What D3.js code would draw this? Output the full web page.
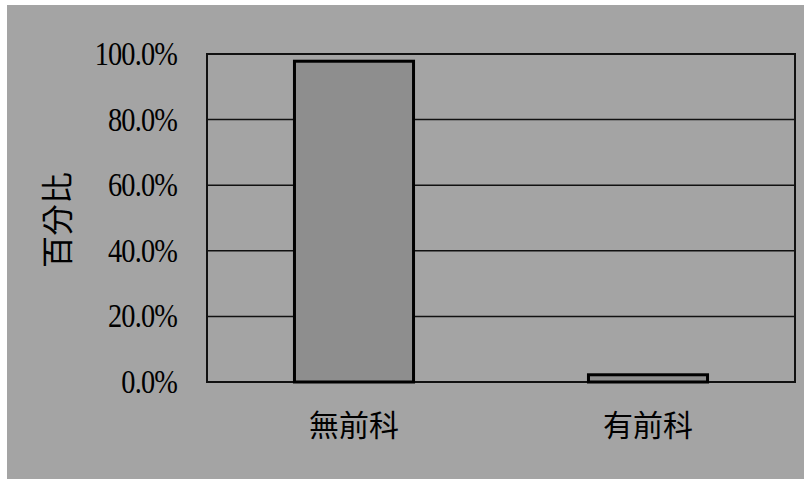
<!DOCTYPE html>
<html>
<head>
<meta charset="utf-8">
<script src="https://cdn.jsdelivr.net/npm/d3@7"></script>
<style>
  body { margin: 0; background: #fff; }
</style>
</head>
<body>
<div id="graph"></div>
<script>
// data
const categories = ["無前科", "有前科"];
const values = [97.8, 2.2];
const yTicks = [0, 20, 40, 60, 80, 100];
const yTitle = "百分比";

const W = 807, H = 482;
const margin = { top: 54, right: 12, bottom: 100, left: 207 };
const width = W - margin.left - margin.right,
      height = H - margin.top - margin.bottom;

const svg = d3.select("#graph")
  .append("svg")
  .attr("width", W)
  .attr("height", H);

// grey scanned background
svg.append("rect")
  .attr("x", 7).attr("y", 5)
  .attr("width", W - 10).attr("height", H - 8)
  .attr("fill", "#a4a4a4");

const g = svg.append("g")
  .attr("transform", "translate(" + margin.left + "," + margin.top + ")");

const x = d3.scaleBand().domain(categories).range([0, width]).padding(0);
const y = d3.scaleLinear().domain([0, 100]).range([height, 0]);

// gridlines
g.selectAll("line.grid")
  .data(yTicks.filter(d => d > 0 && d < 100))
  .enter().append("line")
  .attr("class", "grid")
  .attr("x1", 0).attr("x2", width)
  .attr("y1", d => y(d)).attr("y2", d => y(d))
  .attr("stroke", "#111").attr("stroke-width", 1.5);

// plot border
g.append("rect")
  .attr("x", 0).attr("y", 0)
  .attr("width", width).attr("height", height)
  .attr("fill", "none")
  .attr("stroke", "#111").attr("stroke-width", 2);

// bars
const barW = x.bandwidth() * 0.405;
g.selectAll("rect.bar")
  .data(values)
  .enter().append("rect")
  .attr("class", "bar")
  .attr("x", (d, i) => x(categories[i]) + x.bandwidth() / 2 - barW / 2)
  .attr("y", d => y(d))
  .attr("width", barW)
  .attr("height", d => height - y(d))
  .attr("fill", "#8e8e8e")
  .attr("stroke", "#000").attr("stroke-width", 3);

// y axis labels (condensed serif like the scan)
const yAxis = d3.axisLeft(y).tickValues(yTicks)
  .tickFormat(d => d.toFixed(1) + "%").tickSize(0).tickPadding(0);
g.append("g")
  .attr("class", "y axis")
  .call(yAxis)
  .call(s => s.select(".domain").remove())
  .selectAll("text")
  .attr("x", null)
  .attr("transform", "translate(-30,0) scale(0.86,1)")
  .attr("font-family", "'Liberation Serif', serif")
  .attr("font-size", 33)
  .attr("letter-spacing", "-1px")
  .attr("fill", "#000");

// x axis labels
const xAxis = d3.axisBottom(x).tickSize(0).tickPadding(33);
g.append("g")
  .attr("class", "x axis")
  .attr("transform", "translate(0," + height + ")")
  .call(xAxis)
  .call(s => s.select(".domain").remove())
  .selectAll("text")
  .attr("font-family", "'Noto Sans CJK TC', sans-serif")
  .attr("font-size", 30)
  .attr("fill", "#000");

// y title
svg.append("text")
  .attr("transform", "translate(55,220) rotate(-90)")
  .attr("text-anchor", "middle")
  .attr("dominant-baseline", "central")
  .attr("font-family", "'Noto Sans CJK TC', sans-serif")
  .attr("font-size", 32)
  .attr("fill", "#000")
  .text(yTitle);
</script>
</body>
</html>
